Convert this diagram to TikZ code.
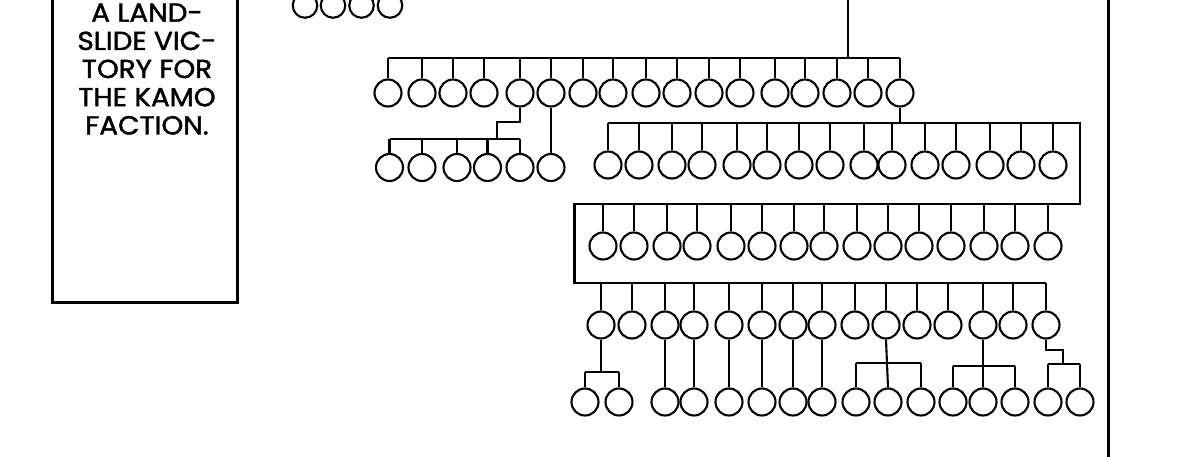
\documentclass[tikz,border=0pt]{standalone}
\usepackage{fontspec}
\setmainfont{Poppins}
\newfontfamily\capfont{Poppins}[FakeBold=1.6]
\begin{document}
\begin{tikzpicture}[x=1pt,y=-1pt,
  pc/.style={circle,draw,line width=2.1pt,minimum size=27pt,inner sep=0pt},
  pcs/.style={pc,minimum size=24.5pt},
  ln/.style={line width=2.1pt},
  frame/.style={line width=2.8pt},
  captext/.style={anchor=base,font=\capfont\fontsize{26}{28}\selectfont,inner sep=0pt,xscale=1.07}]
\useasboundingbox (0,0) rectangle (1200,457);
\clip (0,0) rectangle (1200,457);
\fill[white] (0,0) rectangle (1200,457);
% caption box
\draw[frame] (52.8,-10) -- (52.8,302.5) -- (237.2,302.5) -- (237.2,-10);
\node[captext] (t1) at (147,21.7) {A LAND-};
\node[captext] (t2) at (147,50) {SLIDE VIC-};
\node[captext] (t3) at (147,78) {TORY FOR};
\node[captext] (t4) at (147,106.2) {THE KAMO};
\node[captext] (t5) at (147,134.4) {FACTION.};
% right border
\draw[line width=3pt] (1108,-10) -- (1108,470);
% row 0
\foreach \x [count=\i] in {305,333,361.5,390} \node[pcs] (r0-\i) at (\x,5.5) {};
% row 1
\foreach \x [count=\i] in {388,422,453,484,520,551,583,613,646,677,709,740,775,805,837,868,900}
  \node[pc] (r1-\i) at (\x,93) {};
\coordinate (top) at (848,-5);
\coordinate (j1) at (848,58);
\draw[ln] (top) -- (j1);
\draw[ln] (r1-1.north |- j1) -- (r1-17.north |- j1);
\foreach \i in {1,...,17} \draw[ln] (r1-\i.north) -- (r1-\i.north |- j1);
% row 2a
\foreach \x [count=\i] in {389.5,422,457,487.5,520,551}
  \node[pc] (r2a-\i) at (\x,167.5) {};
\coordinate (b2a) at (497,139);
\coordinate (k1) at (497,121.7);
\draw[ln] (r1-5.south) -- (r1-5.south |- k1) -- (k1) -- (b2a);
\draw[ln] (r2a-1.north |- b2a) -- (r2a-5.north |- b2a);
\foreach \i in {1,...,5} \draw[ln] (r2a-\i.north) -- (r2a-\i.north |- b2a);
\draw[ln] (r1-6.south) -- (r2a-6.north);
% row 2b
\foreach \x [count=\i] in {608,639,672,702,737,767,799,830,864,892,925,956,990,1021,1053}
  \node[pc] (r2b-\i) at (\x,165) {};
% row 3
\foreach \x [count=\i] in {603,634,667,697,731,762,794,824,857,888,919,951,984,1015,1048}
  \node[pc] (r3-\i) at (\x,246) {};
% row 4
\foreach \x [count=\i] in {601,632,665,694,729,762,793,822,855,886,917,948,983,1013,1046}
  \node[pc] (r4-\i) at (\x,325) {};
\coordinate (b2b) at (1080,123);
\coordinate (b3r) at (1080,204);
\coordinate (b3l) at (574.5,204);
\coordinate (b4l) at (574.5,283);
\draw[ln] (r1-17.south) -- (r1-17.south |- b2b);
\draw[ln] (r2b-1.north |- b2b) -- (b2b) -- (b3r) -- (b3l) -- (b4l) -- (r4-15.north |- b4l);
\foreach \i in {1,...,15} {
  \draw[ln] (r2b-\i.north) -- (r2b-\i.north |- b2b);
  \draw[ln] (r3-\i.north) -- (r3-\i.north |- b3l);
  \draw[ln] (r4-\i.north) -- (r4-\i.north |- b4l);
}
% row 5
\foreach \x [count=\i] in {585,619,665,694,729,762,793,822,856,888,921,953,983,1015,1048,1080}
  \node[pc] (r5-\i) at (\x,402) {};
% r4-1 -> r5-1, r5-2
\coordinate (b5a) at (601,372);
\draw[ln] (r4-1.south) -- (b5a);
\draw[ln] (r5-1.north |- b5a) -- (r5-2.north |- b5a);
\foreach \i in {1,2} \draw[ln] (r5-\i.north) -- (r5-\i.north |- b5a);
% single descendants
\draw[ln] (r4-3.south) -- (r5-3.north);
\draw[ln] (r4-4.south) -- (r5-4.north);
\draw[ln] (r4-5.south) -- (r5-5.north);
\draw[ln] (r4-6.south) -- (r5-6.north);
\draw[ln] (r4-7.south) -- (r5-7.north);
\draw[ln] (r4-8.south) -- (r5-8.north);
% r4-10 -> r5-9..11
\coordinate (b5b) at (888,363.3);
\draw[ln] (r4-10.south) -- (r5-10.north);
\draw[ln] (r5-9.north |- b5b) -- (r5-11.north |- b5b);
\foreach \i in {9,11} \draw[ln] (r5-\i.north) -- (r5-\i.north |- b5b);
% r4-13 -> r5-12..14
\coordinate (b5c) at (983,365.7);
\draw[ln] (r4-13.south) -- (r5-13.north);
\draw[ln] (r5-12.north |- b5c) -- (r5-14.north |- b5c);
\foreach \i in {12,14} \draw[ln] (r5-\i.north) -- (r5-\i.north |- b5c);
% r4-15 -> r5-15, r5-16
\coordinate (k2) at (1063,350);
\coordinate (b5d) at (1063,364);
\draw[ln] (r4-15.south) -- (r4-15.south |- k2) -- (k2) -- (b5d);
\draw[ln] (r5-15.north |- b5d) -- (r5-16.north |- b5d);
\foreach \i in {15,16} \draw[ln] (r5-\i.north) -- (r5-\i.north |- b5d);
\end{tikzpicture}
\end{document}
